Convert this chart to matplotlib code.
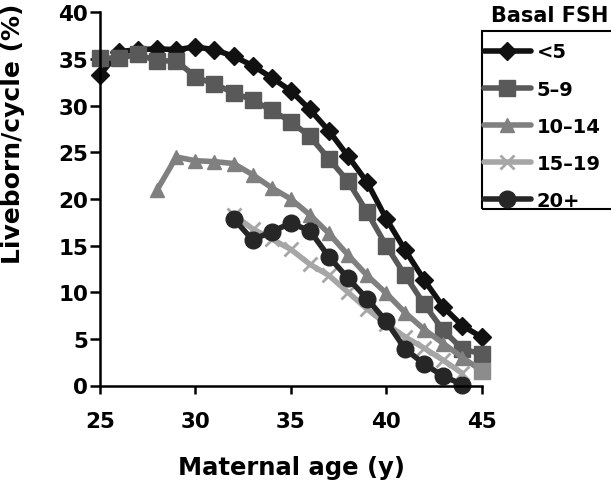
import matplotlib
matplotlib.use("Agg")
import matplotlib.pyplot as plt
from matplotlib.patches import Rectangle

plt.rcParams["font.family"] = ["DejaVu Sans"]
plt.rcParams["font.weight"] = "bold"

# Live birth rate per cycle by maternal age, grouped by basal FSH level
ages_lt5 = list(range(25, 46))
rate_lt5 = [33.3, 35.8, 36.0, 36.1, 36.0, 36.3, 36.0, 35.3, 34.3, 33.0, 31.6,
            29.6, 27.3, 24.6, 21.8, 17.9, 14.5, 11.3, 8.4, 6.4, 5.2]

ages_5_9 = list(range(25, 46))
rate_5_9 = [35.1, 35.1, 35.5, 34.8, 34.8, 33.1, 32.3, 31.4, 30.6, 29.5, 28.3,
            26.7, 24.3, 21.9, 18.6, 15.0, 11.8, 8.7, 5.9, 3.9, 3.4]

ages_10_14 = list(range(28, 46))
rate_10_14 = [21.0, 24.5, 24.1, 24.0, 23.8, 22.6, 21.2, 20.0, 18.3, 16.3,
              14.0, 11.8, 9.9, 7.8, 6.0, 4.5, 3.0, 1.6]

ages_15_19 = list(range(32, 45))
rate_15_19 = [18.3, 16.8, 15.7, 14.6, 13.0, 11.8, 10.0, 8.2, 6.6, 5.2, 4.0,
              2.7, 1.3]

ages_20p = list(range(32, 45))
rate_20p = [17.9, 15.6, 16.5, 17.4, 16.6, 13.8, 11.5, 9.3, 6.9, 3.9, 2.3,
            1.0, 0.1]

group_labels = ["<5", "5\u20139", "10\u201314", "15\u201319", "20+"]
x_ticks = [25, 30, 35, 40, 45]
y_ticks = [0, 5, 10, 15, 20, 25, 30, 35, 40]

W, H = 611, 485
fig = plt.figure(figsize=(W / 100, H / 100), dpi=100)
ax = fig.add_axes([100 / W, 1 - 386.5 / H, (481.5 - 100) / W, (386.5 - 13.4) / H])

styles = [
    dict(color="#111111", marker="D", markersize=9),
    dict(color="#595959", marker="s", markersize=11),
    dict(color="#808080", marker="^", markersize=10),
    dict(color="#a6a6a6", marker="x", markersize=10, markeredgewidth=2),
    dict(color="#262626", marker="o", markersize=12),
]
series = [(ages_lt5, rate_lt5), (ages_5_9, rate_5_9), (ages_10_14, rate_10_14),
          (ages_15_19, rate_15_19), (ages_20p, rate_20p)]

handles = []
for (xs, ys), st, lab in zip(series, styles, group_labels):
    (h,) = ax.plot(xs, ys, linewidth=4, clip_on=False, label=lab,
                   solid_joinstyle="round", solid_capstyle="round", **st)
    handles.append(h)

# final 10-14 point is shown with a square marker
ax.plot(ages_10_14[-1:], rate_10_14[-1:], linestyle="none", marker="s",
        markersize=11, color="#8c8c8c", clip_on=False, zorder=3)

ax.set_xlim(25, 45)
ax.set_ylim(0, 40)
ax.set_xticks(x_ticks)
ax.set_yticks(y_ticks)
for s in ("top", "right"):
    ax.spines[s].set_visible(False)
for s in ("left", "bottom"):
    ax.spines[s].set_linewidth(1.8)
ax.tick_params(axis="y", direction="out", length=7, width=1.8, pad=1.5, labelsize=15.5)
ax.tick_params(axis="x", direction="out", length=6, width=1.8, pad=12, labelsize=15.5)

fig.text(292 / W, 1 - 468 / H, "Maternal age (y)", ha="center", va="center",
         fontsize=17.5, fontweight="bold")
fig.text(25 / W, 1 - 134 / H, "Liveborn/cycle (%)", rotation=90, ha="right",
         va="center", fontsize=18, fontweight="bold")

# legend box and title
fig.patches.append(Rectangle((481.7 / W, 1 - 210 / H), 150 / W, (210 - 31.7) / H,
                             transform=fig.transFigure, fill=False,
                             edgecolor="black", linewidth=1.5))
fig.text(550 / W, 1 - 22 / H, "Basal FSH", ha="center", va="baseline",
         fontsize=15, fontweight="bold")
fig.legend(handles=handles, labels=group_labels, loc="upper left",
           bbox_to_anchor=(484 / W, 1 - 43.5 / H), frameon=False,
           handlelength=2.4, handletextpad=0.3, labelspacing=0.93,
           borderpad=0, borderaxespad=0, prop=dict(size=14, weight="bold"))

fig.savefig("out.png", dpi=100)
